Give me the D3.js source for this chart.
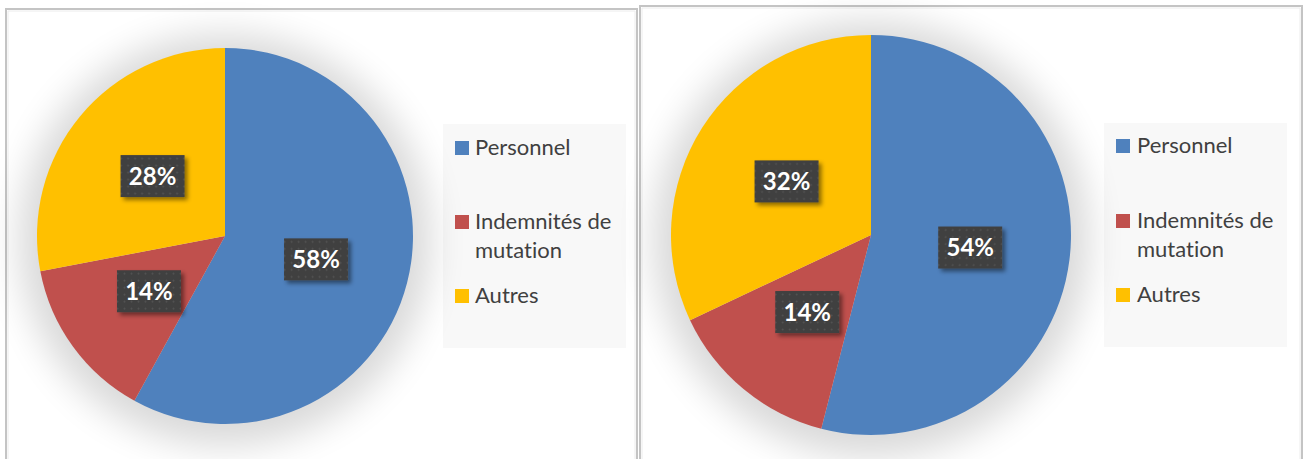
<!DOCTYPE html>
<html><head><meta charset="utf-8">
<script src="https://cdn.jsdelivr.net/npm/d3@7"></script>
<style>body{margin:0;background:#fff}svg{display:block}text{font-variant-ligatures:none;font-feature-settings:"liga" 0}</style>
</head><body>
<svg id="c" width="1308" height="459"></svg>
<script>
const categories = ["Personnel", "Indemnités de mutation", "Autres"];
const legendLines = [["Personnel"], ["Indemnités de", "mutation"], ["Autres"]];
const valuesLeft = [58, 14, 28];
const valuesRight = [54, 14, 32];
const colors = ["#4f81bd", "#c0504d", "#ffc000"];

const svg = d3.select("#c");
const defs = svg.append("defs");
const pat = defs.append("pattern").attr("id","dots").attr("patternUnits","userSpaceOnUse")
  .attr("width",7).attr("height",7);
pat.append("rect").attr("width",7).attr("height",7).attr("fill","#3f3f3f");
pat.append("circle").attr("cx",3.5).attr("cy",3.5).attr("r",1).attr("fill","#555");
const glow = defs.append("filter").attr("id","glow").attr("x","-50%").attr("y","-50%").attr("width","200%").attr("height","200%");
glow.append("feGaussianBlur").attr("stdDeviation",18);
const ds = defs.append("filter").attr("id","ds").attr("x","-30%").attr("y","-30%").attr("width","160%").attr("height","160%");
ds.append("feDropShadow").attr("dx",3).attr("dy",3).attr("stdDeviation",2).attr("flood-color","#000").attr("flood-opacity",0.45);

const panels = [
  {x0:6, y0:9, x1:637, cx:225, cy:236, r:188, values:valuesLeft, lg:{x:443,y:124,w:183,h:224, sq:455, tx:475, ys:[155,229,303]}},
  {x0:640, y0:6, x1:1302, cx:871, cy:235, r:200, values:valuesRight, lg:{x:1104,y:123,w:183,h:224, sq:1116, tx:1137, ys:[153,228,302]}}
];

panels.forEach(p => {
  svg.append("path").attr("d",`M${p.x0},470V${p.y0}H${p.x1}V470`)
    .attr("fill","none").attr("stroke","#c4c4c4").attr("stroke-width",2);
  svg.append("path").attr("d",`M${p.x0+2},470V${p.y0+2}H${p.x1-2}V470`)
    .attr("fill","none").attr("stroke","#ececec").attr("stroke-width",1);
  svg.append("rect").attr("x",p.lg.x).attr("y",p.lg.y).attr("width",p.lg.w).attr("height",p.lg.h).attr("fill","#f8f8f8");
  svg.append("circle").attr("cx",p.cx).attr("cy",p.cy+4).attr("r",p.r+18)
    .attr("fill","#000").attr("opacity",0.15).attr("filter","url(#glow)");
  const pie = d3.pie().sort(null).value(d=>d)(p.values);
  const arc = d3.arc().innerRadius(0).outerRadius(p.r);
  const g = svg.append("g").attr("transform",`translate(${p.cx},${p.cy})`);
  g.selectAll("path").data(pie).join("path").attr("d",arc).attr("fill",(d,i)=>colors[i]);
  const total = d3.sum(p.values);
  const lab = g.selectAll("g.lab").data(pie).join("g").attr("class","lab")
    .attr("transform",d=>`translate(${arc.centroid(d)})`);
  lab.append("rect").attr("x",-32).attr("y",-21).attr("width",64).attr("height",42)
    .attr("fill","url(#dots)").attr("filter","url(#ds)");
  lab.append("text").attr("text-anchor","middle").attr("dy","0.37em")
    .attr("font-family","Lato, 'Open Sans', sans-serif").attr("font-weight","bold").attr("font-size",24)
    .attr("fill","#fff").text(d=>Math.round(d.value/total*100)+"%");
  categories.forEach((c,i) => {
    const y = p.lg.ys[i];
    svg.append("rect").attr("x",p.lg.sq).attr("y",y-14).attr("width",14).attr("height",14).attr("fill",colors[i]);
    legendLines[i].forEach((ln,j) => {
      svg.append("text").attr("x",p.lg.tx).attr("y",y+j*29)
        .attr("font-family","Lato, 'Open Sans', sans-serif").attr("font-size",22).attr("fill","#404040").text(ln);
    });
  });
});
</script>
</body></html>
